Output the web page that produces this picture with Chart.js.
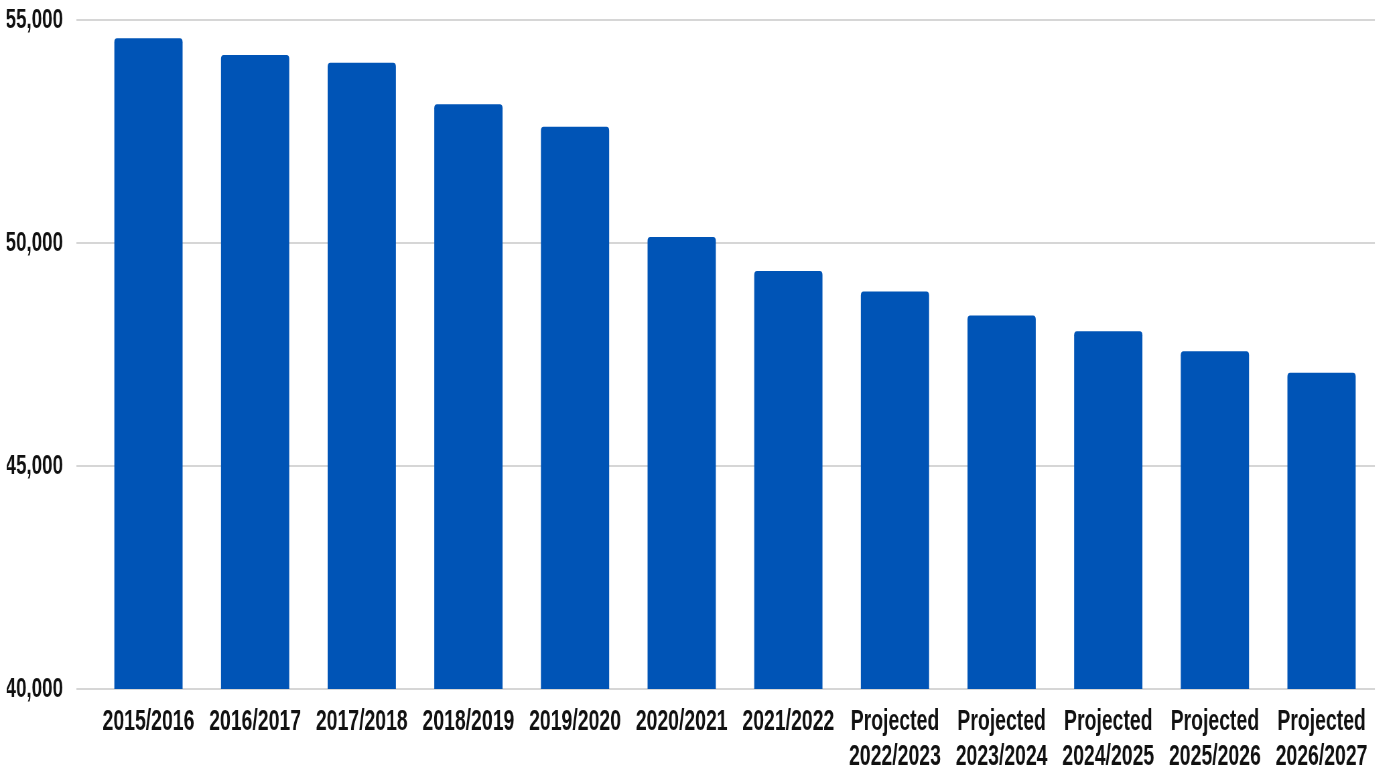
<!DOCTYPE html>
<html>
<head>
<meta charset="utf-8">
<script src="https://cdn.jsdelivr.net/npm/chart.js@4/dist/chart.umd.min.js"></script>
<style>
  html, body { margin: 0; padding: 0; background: #fff; overflow: hidden; }
  /* the source picture is squeezed sideways, so draw wide and squeeze the whole chart */
  #barChart { display: block; transform: scaleX(0.67); transform-origin: 0 0; }
</style>
</head>
<body>
<canvas id="barChart" width="2057" height="775"></canvas>
<script>
// school years and values
const years = [
  '2015/2016', '2016/2017', '2017/2018', '2018/2019', '2019/2020', '2020/2021', '2021/2022',
  ['Projected', '2022/2023'], ['Projected', '2023/2024'], ['Projected', '2024/2025'],
  ['Projected', '2025/2026'], ['Projected', '2026/2027']
];
const values = [54590, 54215, 54043, 53110, 52608, 50135, 49372, 48910, 48372, 48020, 47572, 47093];
const yTicks = [40000, 45000, 50000, 55000];

const xFont = { family: "'Liberation Sans', Arial, sans-serif", size: 29, weight: 'bold', lineHeight: 1.2 };
const yFont = { family: "'Liberation Sans', Arial, sans-serif", size: 28, weight: 'bold', lineHeight: 1.2 };

const ctx = document.getElementById('barChart').getContext('2d');
new Chart(ctx, {
  type: 'bar',
  data: {
    labels: years,
    datasets: [{
      data: values,
      backgroundColor: '#0054b6',
      borderRadius: 4,
      borderSkipped: 'bottom',
      barPercentage: 0.64,
      categoryPercentage: 1
    }]
  },
  options: {
    responsive: false,
    animation: false,
    layout: { padding: { left: 10, right: 0, top: 0, bottom: 0 } },
    plugins: { legend: { display: false }, tooltip: { enabled: false } },
    scales: {
      x: {
        grid: { display: false, drawTicks: false },
        border: { display: false },
        ticks: { color: '#111', font: xFont, padding: 16, maxRotation: 0, autoSkip: false },
        afterFit: axis => { axis.height = 86; }
      },
      y: {
        min: 40000,
        max: 55000,
        afterBuildTicks: axis => { axis.ticks = yTicks.map(v => ({ value: v })); },
        afterFit: axis => { axis.width = 132; axis.paddingTop = 20; axis.paddingBottom = 0; },
        border: { display: false },
        grid: { color: '#d6d6d6', lineWidth: 2, tickLength: 28 },
        ticks: {
          color: '#111',
          font: yFont,
          padding: 20,
          callback: v => v.toLocaleString('en-US')
        }
      }
    }
  }
});
</script>
</body>
</html>
